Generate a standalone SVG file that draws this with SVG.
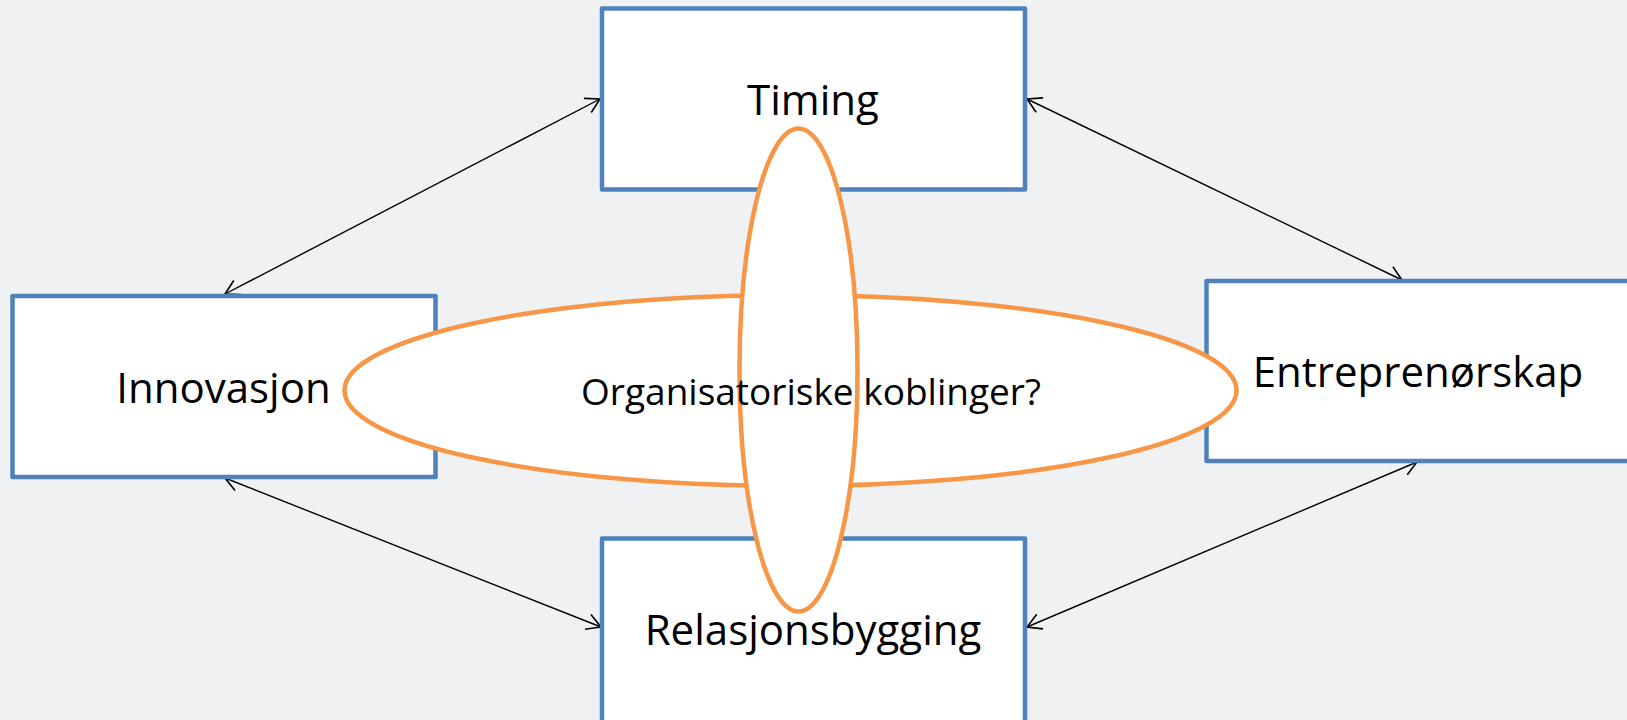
<svg xmlns="http://www.w3.org/2000/svg" width="1627" height="720" viewBox="0 0 1627 720">
<style>
.box{fill:#ffffff;stroke:#4F81BD;stroke-width:4.5;stroke-linejoin:round}
.ell{fill:#ffffff;stroke:#F79646;stroke-width:4.5}
.lbl{font-family:"Open Sans","Liberation Sans",sans-serif;font-size:42px;fill:#000;text-anchor:middle}
.sm{font-size:37px}
.conn{stroke:#000;stroke-width:1.4;fill:none;marker-start:url(#ah);marker-end:url(#ah)}
</style>
<defs>
<marker id="ah" viewBox="0 0 16 18" refX="15" refY="9" markerWidth="16" markerHeight="18" markerUnits="userSpaceOnUse" orient="auto-start-reverse">
<path d="M1,1 L15,9 L1,17" fill="none" stroke="#000" stroke-width="1.6"/>
</marker>
</defs>
<rect width="1627" height="720" fill="#F0F1F3"/>
<g id="connectors">
<line class="conn" x1="225" y1="294" x2="600" y2="99"/>
<line class="conn" x1="1027" y1="99" x2="1402" y2="280"/>
<line class="conn" x1="225" y1="478" x2="601" y2="627"/>
<line class="conn" x1="1417" y1="462" x2="1027" y2="627"/>
</g>
<g id="timing"><rect class="box" x="602" y="8.5" width="423" height="181"/></g>
<g id="innovasjon"><rect class="box" x="12.5" y="296" width="423" height="181"/></g>
<g id="entreprenorskap"><rect class="box" x="1206.5" y="281" width="430" height="180"/></g>
<g id="relasjonsbygging"><rect class="box" x="602" y="538.5" width="423" height="200"/></g>
<g id="organisatoriske"><ellipse class="ell" cx="790.5" cy="390.5" rx="446" ry="95.5"/></g>
<g id="vertical-ellipse"><ellipse class="ell" cx="798.5" cy="370" rx="59" ry="241.5"/></g>
<text class="lbl" x="813" y="115">Timing</text>
<text class="lbl" x="223.5" y="403">Innovasjon</text>
<text class="lbl" x="1418" y="387">Entreprenørskap</text>
<text class="lbl" x="813" y="645">Relasjonsbygging</text>
<text class="lbl sm" x="811" y="405">Organisatoriske koblinger?</text>
</svg>
